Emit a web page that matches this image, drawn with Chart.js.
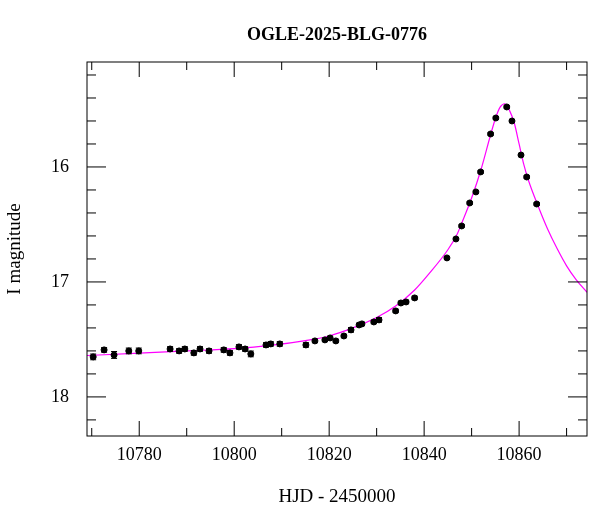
<!DOCTYPE html>
<html>
<head>
<meta charset="utf-8">
<script src="https://cdn.jsdelivr.net/npm/chart.js@4"></script>
<style>
  body { margin: 0; background: #fff; }
  #wrap { width: 600px; height: 512px; }
</style>
</head>
<body>
<div id="wrap"><canvas id="lc"></canvas></div>
<script>
const obsHjd = [10770.3, 10772.6, 10774.7, 10777.8, 10779.9, 10786.5, 10788.4, 10789.6, 10791.5, 10792.8,
    10794.7, 10797.8, 10799.1, 10801.0, 10802.3, 10803.5, 10806.7, 10807.7, 10809.6, 10815.1,
    10817.0, 10819.1, 10820.2, 10821.4, 10823.1, 10824.6, 10826.3, 10826.9, 10829.4, 10830.5,
    10834.0, 10835.1, 10836.2, 10838.0, 10844.8, 10846.7, 10847.9, 10849.6, 10850.9, 10851.9,
    10854.0, 10855.1, 10857.4, 10858.5, 10860.4, 10861.6, 10863.7];
const obsMag = [17.652, 17.591, 17.635, 17.600, 17.600, 17.583, 17.600, 17.583, 17.617, 17.583,
    17.600, 17.591, 17.617, 17.565, 17.583, 17.626, 17.548, 17.539, 17.539, 17.548,
    17.513, 17.504, 17.487, 17.513, 17.470, 17.417, 17.374, 17.365, 17.348, 17.330,
    17.252, 17.183, 17.174, 17.139, 16.791, 16.626, 16.513, 16.313, 16.217, 16.043,
    15.713, 15.574, 15.478, 15.600, 15.896, 16.087, 16.322];
const obsErr = [0.025, 0.02, 0.03, 0.025, 0.025, 0.02, 0.02, 0.02, 0.02, 0.02,
    0.02, 0.02, 0.02, 0.02, 0.02, 0.025, 0.02, 0.02, 0.02, 0.02,
    0.015, 0.015, 0.015, 0.015, 0.015, 0.02, 0.015, 0.015, 0.015, 0.02,
    0.015, 0.015, 0.015, 0.015, 0.012, 0.012, 0.012, 0.012, 0.012, 0.012,
    0.012, 0.012, 0.012, 0.012, 0.012, 0.012, 0.012];

const modelHjd = [10769, 10780, 10790, 10800, 10808, 10815, 10820, 10825, 10830, 10834, 10838, 10841,
    10845, 10847, 10848, 10850, 10852, 10854, 10855, 10856, 10857, 10858, 10859, 10860, 10861,
    10862, 10864, 10866, 10868, 10870, 10872, 10874.3];
const modelMag = [17.64, 17.62, 17.60, 17.58, 17.55, 17.51, 17.47, 17.40, 17.31, 17.21, 17.07, 16.93,
    16.72, 16.58, 16.48, 16.27, 16.02, 15.72, 15.58, 15.48, 15.45, 15.51, 15.62, 15.80, 15.98,
    16.12, 16.34, 16.54, 16.71, 16.86, 16.98, 17.09];

const xTicks = [10770, 10780, 10790, 10800, 10810, 10820, 10830, 10840, 10850, 10860, 10870];
const xLabels = [10780, 10800, 10820, 10840, 10860];
const yTicks = [15.2, 15.4, 15.6, 15.8, 16, 16.2, 16.4, 16.6, 16.8, 17, 17.2, 17.4, 17.6, 17.8, 18, 18.2];
const yLabels = [16, 17, 18];

const serif = '"Liberation Serif", "DejaVu Serif", serif';

const framePlugin = {
    id: 'frame',
    afterDatasetsDraw(chart) {
        const { ctx, chartArea: a, scales: { x, y } } = chart;
        ctx.save();
        // error bars
        ctx.strokeStyle = '#000';
        ctx.lineWidth = 1;
        obsHjd.forEach((t, i) => {
            const px = x.getPixelForValue(t);
            const p1 = y.getPixelForValue(obsMag[i] - obsErr[i]);
            const p2 = y.getPixelForValue(obsMag[i] + obsErr[i]);
            ctx.beginPath();
            ctx.moveTo(px, p1); ctx.lineTo(px, p2);
            ctx.moveTo(px - 3, p1); ctx.lineTo(px + 3, p1);
            ctx.moveTo(px - 3, p2); ctx.lineTo(px + 3, p2);
            ctx.stroke();
        });
        // box
        ctx.strokeRect(a.left, a.top, a.right - a.left, a.bottom - a.top);
        // ticks inward on all four sides
        ctx.beginPath();
        xTicks.forEach(t => {
            const px = x.getPixelForValue(t);
            const len = xLabels.includes(t) ? 15 : 8;
            ctx.moveTo(px, a.bottom); ctx.lineTo(px, a.bottom - len);
            ctx.moveTo(px, a.top); ctx.lineTo(px, a.top + len);
        });
        yTicks.forEach(m => {
            const py = y.getPixelForValue(m);
            const len = yLabels.includes(m) ? 19 : 9;
            ctx.moveTo(a.left, py); ctx.lineTo(a.left + len, py);
            ctx.moveTo(a.right, py); ctx.lineTo(a.right - len, py);
        });
        ctx.stroke();
        // title
        ctx.fillStyle = '#000';
        ctx.font = 'bold 18px ' + serif;
        ctx.textAlign = 'center';
        ctx.textBaseline = 'middle';
        ctx.fillText('OGLE-2025-BLG-0776', (a.left + a.right) / 2, 35);
        ctx.restore();
    }
};

new Chart(document.getElementById('lc'), {
    type: 'scatter',
    data: {
        datasets: [{
            type: 'line',
            data: modelHjd.map((t, i) => ({ x: t, y: modelMag[i] })),
            borderColor: '#ff00ff',
            borderWidth: 1.2,
            pointRadius: 0,
            cubicInterpolationMode: 'monotone',
            order: 2
        }, {
            data: obsHjd.map((t, i) => ({ x: t, y: obsMag[i] })),
            backgroundColor: '#000',
            borderColor: '#000',
            pointRadius: 3,
            order: 1
        }]
    },
    options: {
        responsive: true,
        maintainAspectRatio: false,
        animation: false,
        layout: { padding: { top: 62, right: 13, left: 0, bottom: 0 } },
        plugins: { legend: { display: false }, tooltip: { enabled: false } },
        scales: {
            x: {
                type: 'linear',
                min: 10769,
                max: 10874.3,
                afterBuildTicks: s => { s.ticks = xLabels.map(v => ({ value: v })); },
                afterFit: s => { s.height = 76; },
                grid: { display: false },
                border: { display: false },
                ticks: { color: '#000', font: { family: serif, size: 18 }, padding: 0, callback: v => String(v) },
                title: { display: true, text: 'HJD - 2450000', color: '#000', font: { family: serif, size: 19 }, padding: { top: 4 } }
            },
            y: {
                type: 'linear',
                reverse: true,
                min: 15.087,
                max: 18.34,
                afterBuildTicks: s => { s.ticks = yLabels.map(v => ({ value: v })); },
                afterFit: s => { s.width = 87; },
                grid: { display: false },
                border: { display: false },
                ticks: { color: '#000', font: { family: serif, size: 18 }, padding: 10 },
                title: { display: true, text: 'I magnitude', color: '#000', font: { family: serif, size: 19 }, padding: { bottom: 6 } }
            }
        }
    },
    plugins: [framePlugin]
});
</script>
</body>
</html>
